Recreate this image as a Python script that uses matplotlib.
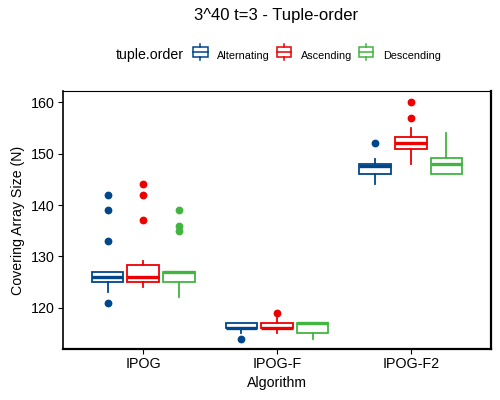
import matplotlib
matplotlib.use("Agg")
import matplotlib.pyplot as plt
from matplotlib.legend_handler import HandlerBase
from matplotlib.lines import Line2D
from matplotlib.patches import Rectangle

plt.rcParams["font.family"] = ["Liberation Sans", "DejaVu Sans"]

algorithms = ["IPOG", "IPOG-F", "IPOG-F2"]
orders = ["Alternating", "Ascending", "Descending"]
colors = ["#00468B", "#ED0000", "#42B540"]

# per order, values for IPOG, IPOG-F, IPOG-F2
q1 = {
    "Alternating": [125, 116, 146],
    "Ascending": [125, 116, 151],
    "Descending": [125, 115, 146],
}
med = {
    "Alternating": [126, 116, 147.6],
    "Ascending": [126, 116, 152],
    "Descending": [127, 117, 148],
}
q3 = {
    "Alternating": [127, 117, 148],
    "Ascending": [128.3, 117, 153.3],
    "Descending": [127, 117, 149.2],
}
whislo = {
    "Alternating": [123, 115, 144],
    "Ascending": [124, 115, 148],
    "Descending": [122, 114, 146],
}
whishi = {
    "Alternating": [127, 117, 149],
    "Ascending": [129, 118, 155],
    "Descending": [127, 117, 154],
}
fliers = {
    "Alternating": [[142, 139, 133, 121], [114], [152]],
    "Ascending": [[144, 142, 137], [119], [160, 157]],
    "Descending": [[139, 136, 135], [], []],
}

fig = plt.figure(figsize=(5, 4), dpi=100)
ax = fig.add_axes([0.126, 0.1275, 0.856, 0.645])

offsets = [-0.267, 0.0, 0.267]
for k, order in enumerate(orders):
    stats = []
    for i in range(len(algorithms)):
        stats.append({
            "q1": q1[order][i], "med": med[order][i], "q3": q3[order][i],
            "whislo": whislo[order][i], "whishi": whishi[order][i],
            "fliers": fliers[order][i],
        })
    pos = [i + 1 + offsets[k] for i in range(len(algorithms))]
    c = colors[k]
    ax.bxp(stats, positions=pos, widths=0.236, showcaps=False, patch_artist=True,
           boxprops=dict(facecolor="white", edgecolor=c, linewidth=1.3),
           medianprops=dict(color=c, linewidth=2.4, solid_capstyle="butt"),
           whiskerprops=dict(color=c, linewidth=1.3),
           flierprops=dict(marker="o", markerfacecolor=c, markeredgecolor=c,
                           markersize=4.6, linestyle="none"),
           manage_ticks=False)

ax.set_xlim(0.4, 3.6)
ax.set_ylim(111.96, 162.2)
ax.set_xticks([1, 2, 3])
ax.set_xticklabels(algorithms)
ax.set_yticks([120, 130, 140, 150, 160])
ax.tick_params(axis="both", labelsize=10.3, colors="black", length=3.5, width=0.8, pad=2.5)
for s in ax.spines.values():
    s.set_color("black")
    s.set_linewidth(0.8)
ax.spines["bottom"].set_linewidth(1.6)
ax.spines["right"].set_linewidth(1.6)
ax.spines["left"].set_linewidth(1.2)

ax.set_xlabel("Algorithm", fontsize=10.2, labelpad=3)
ax.set_ylabel("Covering Array Size (N)", fontsize=10.2, labelpad=4)
fig.text(0.552, 0.962, "3^40 t=3 - Tuple-order", ha="center", va="center", fontsize=12)


class BoxGlyph(HandlerBase):
    def create_artists(self, legend, orig, xd, yd, w, h, fontsize, trans):
        c = orig.get_color()
        x0 = xd
        y0 = yd - h * 0.12
        rect = Rectangle((x0, y0 + h * 0.08), w, h * 0.84, facecolor="white",
                         edgecolor=c, linewidth=1.1, transform=trans)
        mid = Line2D([x0, x0 + w], [y0 + h * 0.5] * 2, color=c, lw=1.1, transform=trans)
        top = Line2D([x0 + w / 2] * 2, [y0 + h * 0.92, y0 + h * 1.2], color=c, lw=1.1, transform=trans)
        bot = Line2D([x0 + w / 2] * 2, [y0 - h * 0.2, y0 + h * 0.08], color=c, lw=1.1, transform=trans)
        return [rect, mid, top, bot]


handles = [Line2D([], [], color=c) for c in colors]
fig.legend(handles, orders, handler_map={Line2D: BoxGlyph()}, loc="center left",
           bbox_to_anchor=(0.386, 0.862), ncol=3, frameon=False, fontsize=7.8,
           handlelength=1.35, handleheight=1.3, handletextpad=0.9, columnspacing=0.6,
           borderaxespad=0, borderpad=0)
fig.text(0.232, 0.862, "tuple.order", ha="left", va="center", fontsize=10.2)

fig.savefig("out.png", dpi=100)
